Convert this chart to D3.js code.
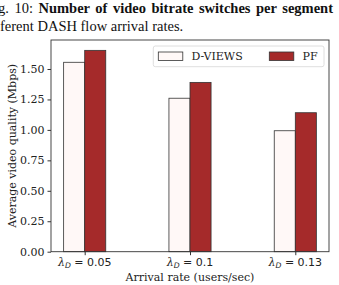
<!DOCTYPE html>
<html>
<head>
<meta charset="utf-8">
<script src="https://cdn.jsdelivr.net/npm/d3@7"></script>
<style>
  body { margin: 0; background: #fff; }
  svg { display: block; }
</style>
</head>
<body>
<svg id="chart"></svg>
<script>
const W = 339, H = 285;

// data
const categories = ["0.05", "0.1", "0.13"];
const series = ["D-VIEWS", "PF"];
const dviews = [1.555, 1.26, 0.993];
const pf = [1.653, 1.39, 1.141];
const yTicks = [0, 0.25, 0.5, 0.75, 1.0, 1.25, 1.5];
const colors = { "D-VIEWS": "#fff8f7", "PF": "#a52a2a" };

const svg = d3.select("#chart").attr("width", W).attr("height", H);

// plot box
const L = 51, R = 329, T = 40, B = 251.7;
const bw = 0.2;
const x = d3.scaleLinear().domain([-0.32, 2.32]).range([L, R]);
const y = d3.scaleLinear().domain([0, 1.738]).range([B, T]);

const serif = "'DejaVu Serif', serif";
const times = "'Liberation Serif', 'Times New Roman', serif";

// caption above the figure (justified line, cut at left edge)
const cap = svg.append("text").attr("x", 333).attr("y", 12.5)
  .attr("text-anchor", "end").attr("font-family", times).attr("font-size", 14.5).attr("fill", "#111");
cap.append("tspan").text("g. 10: ");
cap.append("tspan").attr("font-weight", "bold").text("Number of video bitrate switches per segment");
{
  const natural = cap.node().getComputedTextLength();
  const extra = (335 - natural) / 8;
  if (extra > 0) cap.attr("word-spacing", extra);
}
svg.append("text").attr("x", 0).attr("y", 31)
  .attr("font-family", times).attr("font-size", 14.5).attr("fill", "#111")
  .text("ferent DASH flow arrival rates.");

// bars
const g = svg.append("g");
const bars = categories.flatMap((c, i) => [
  { i, s: "D-VIEWS", v: dviews[i], off: -bw },
  { i, s: "PF", v: pf[i], off: 0 }
]);
g.selectAll("rect.bar").data(bars).join("rect")
  .attr("class", "bar")
  .attr("x", d => x(d.i + d.off))
  .attr("width", d => x(d.i + d.off + bw) - x(d.i + d.off))
  .attr("y", d => y(d.v))
  .attr("height", d => y(0) - y(d.v))
  .attr("fill", d => colors[d.s])
  .attr("stroke", "#333").attr("stroke-width", 0.8);

// axes
const yAxis = svg.append("g").attr("transform", `translate(${L},0)`)
  .call(d3.axisLeft(y).tickValues(yTicks).tickFormat(d3.format(".2f")).tickSize(3.5).tickPadding(3));
yAxis.select(".domain").remove();
yAxis.selectAll("text").attr("font-family", serif).attr("font-size", 11).attr("fill", "#222");
yAxis.selectAll("line").attr("stroke", "#333");

const xAxis = svg.append("g").attr("transform", `translate(0,${B})`)
  .call(d3.axisBottom(x).tickValues(d3.range(categories.length)).tickFormat(() => "").tickSize(3.5));
xAxis.select(".domain").remove();
xAxis.selectAll("line").attr("stroke", "#333");

// x tick labels: lambda_D = value
categories.forEach((c, i) => {
  const t = svg.append("text").attr("x", x(i)).attr("y", 265.5)
    .attr("text-anchor", "middle").attr("font-family", "'DejaVu Sans', sans-serif")
    .attr("font-size", 11).attr("fill", "#222");
  t.append("tspan").attr("font-family", "'DejaVu Serif', serif").attr("font-style", "italic").text("λ");
  t.append("tspan").attr("font-size", 7.7).attr("dy", 2).attr("font-style", "italic").text("D");
  t.append("tspan").attr("dy", -2).text(" = " + c);
});

// frame
svg.append("rect").attr("x", L).attr("y", T).attr("width", R - L).attr("height", B - T)
  .attr("fill", "none").attr("stroke", "#333").attr("stroke-width", 0.9);

// axis titles
svg.append("text").attr("transform", `translate(16,${(T + B) / 2}) rotate(-90)`)
  .attr("text-anchor", "middle").attr("font-family", serif).attr("font-size", 11).attr("fill", "#222")
  .text("Average video quality (Mbps)");
svg.append("text").attr("x", x(1)).attr("y", 280.5)
  .attr("text-anchor", "middle").attr("font-family", serif).attr("font-size", 11).attr("fill", "#222")
  .text("Arrival rate (users/sec)");

// legend
const lg = svg.append("g");
lg.append("rect").attr("x", 153.3).attr("y", 46).attr("width", 170.7).attr("height", 20.7)
  .attr("rx", 2).attr("fill", "#fff").attr("fill-opacity", 0.85).attr("stroke", "#d5d5d5").attr("stroke-width", 0.8);
const lx = [158.3, 269.3];
series.forEach((s, k) => {
  lg.append("rect").attr("x", lx[k]).attr("y", 52).attr("width", 24.5).attr("height", 8.5)
    .attr("fill", colors[s]).attr("stroke", "#333").attr("stroke-width", 0.8);
  lg.append("text").attr("x", lx[k] + 33.3).attr("y", 60.3)
    .attr("font-family", serif).attr("font-size", 11).attr("fill", "#222").text(s);
});
</script>
</body>
</html>
